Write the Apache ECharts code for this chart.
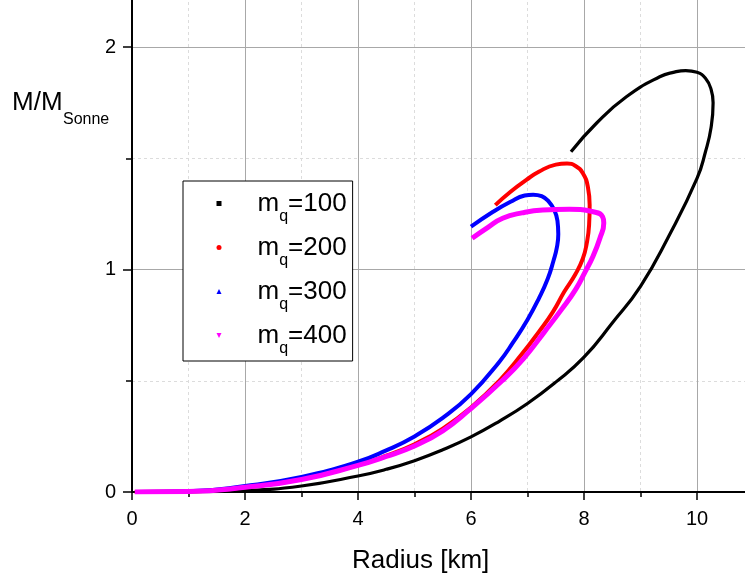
<!DOCTYPE html>
<html>
<head>
<meta charset="utf-8">
<script src="https://cdn.jsdelivr.net/npm/echarts@6/dist/echarts.min.js"></script>
<style>html,body{margin:0;padding:0;background:#fff;}#c{width:745px;height:582px;}</style>
</head>
<body>
<div id="c"></div>
<script>
// ---- data ----
const seriesNames = ['m_q=100', 'm_q=200', 'm_q=300', 'm_q=400'];
const seriesColors = ['#000000', '#ff0000', '#0000ff', '#ff00ff'];
const xTicks = [0, 2, 4, 6, 8, 10];
const yTicks = [0, 1, 2];

const mq100 = [[0.05,0],[1,0.001],[2,0.006],[3,0.027],[4,0.072],[4.5,0.102],[5,0.141],[5.5,0.19],[6,0.248],
  [6.5,0.318],[7,0.398],[7.5,0.494],[8,0.606],[8.5,0.76],[9,0.925],[9.5,1.15],[10,1.41],[10.15,1.53],
  [10.25,1.64],[10.285,1.75],[10.25,1.81],[10.15,1.86],[10.0,1.887],[9.8,1.895],[9.6,1.888],[9.34,1.867],
  [8.75,1.777],[8.22,1.658],[7.77,1.53]];
const mq200 = [[0.05,0],[1,0.002],[2,0.021],[3,0.057],[4,0.121],[4.5,0.163],[5,0.215],[5.5,0.285],[6,0.38],
  [6.5,0.5],[6.9,0.62],[7.2,0.72],[7.45,0.81],[7.65,0.9],[7.85,0.98],[7.98,1.05],[8.05,1.12],[8.09,1.2],
  [8.1,1.29],[8.07,1.37],[7.98,1.433],[7.85,1.466],[7.7,1.477],[7.5,1.472],[7.2,1.44],[6.98,1.403],
  [6.7,1.35],[6.43,1.29]];
const mq300 = [[0.1,0],[1,0.003],[2,0.027],[3,0.068],[4,0.136],[4.5,0.187],[5,0.25],[5.5,0.333],[6,0.44],
  [6.5,0.585],[6.75,0.675],[7.0,0.775],[7.2,0.87],[7.36,0.96],[7.46,1.04],[7.52,1.10],[7.545,1.16],
  [7.53,1.22],[7.47,1.27],[7.38,1.305],[7.25,1.33],[7.1,1.337],[6.95,1.333],[6.7,1.305],[6.39,1.26],[6.0,1.193]];
const mq400 = [[0.05,0],[1,0.002],[2,0.021],[3,0.056],[4,0.12],[4.5,0.16],[5,0.207],[5.5,0.275],[5.97,0.369],
  [6.55,0.5],[6.93,0.6],[7.3,0.72],[7.6,0.82],[7.85,0.91],[8.02,0.99],[8.16,1.06],[8.28,1.14],[8.35,1.21],
  [8.33,1.237],[8.2,1.258],[7.74,1.271],[7.27,1.268],[6.9,1.255],[6.56,1.231],[6.3,1.19],[6.02,1.141]];
const seriesData = [mq100, mq200, mq300, mq400];
const lineWidths = [3.2, 4, 4, 5];
const legendIcons = ['rect', 'circle', 'triangle', 'path://M0,0L10,0L5,10Z'];

const FONT = 'Liberation Sans, Arial, sans-serif';
const chart = echarts.init(document.getElementById('c'), null, {renderer: 'canvas'});

const option = {
  animation: false,
  backgroundColor: '#ffffff',
  grid: {left: 132, right: -65, top: -64, bottom: 90, containLabel: false, outerBoundsMode: 'none'},
  xAxis: {
    type: 'value', min: 0, max: 12, interval: 2,
    axisLine: {show: true, onZero: false, lineStyle: {color: '#000', width: 2}},
    axisTick: {show: true, inside: false, length: 8, lineStyle: {color: '#000', width: 1.5}},
    minorTick: {show: true, splitNumber: 2, length: 5, lineStyle: {color: '#000', width: 1.5}},
    axisLabel: {margin: 17, fontSize: 20, color: '#000', fontFamily: FONT,
      formatter: v => (xTicks.indexOf(v) >= 0 ? String(v) : '')},
    splitLine: {show: true, lineStyle: {color: '#a8a8a8', width: 1}},
    minorSplitLine: {show: true, lineStyle: {color: '#dcdcdc', width: 1, type: [3, 3]}}
  },
  yAxis: {
    type: 'value', min: 0, max: 2.5, interval: 1,
    axisLine: {show: true, onZero: false, lineStyle: {color: '#000', width: 2}},
    axisTick: {show: true, inside: false, length: 9, lineStyle: {color: '#000', width: 1.5}},
    minorTick: {show: true, splitNumber: 2, length: 6, lineStyle: {color: '#000', width: 1.5}},
    axisLabel: {margin: 16, fontSize: 20, color: '#000', fontFamily: FONT,
      formatter: v => (yTicks.indexOf(v) >= 0 ? String(v) : '')},
    splitLine: {show: true, lineStyle: {color: '#a8a8a8', width: 1}},
    minorSplitLine: {show: true, lineStyle: {color: '#dcdcdc', width: 1, type: [3, 3]}}
  },
  legend: {
    orient: 'vertical', left: 183, top: 181,
    padding: [1, 6, 4, 33.5], itemGap: 1,
    itemWidth: 5, itemHeight: 5,
    borderColor: '#000', borderWidth: 1, backgroundColor: '#fff',
    data: seriesNames.map((n, i) => ({name: n, icon: legendIcons[i], itemStyle: {color: seriesColors[i]}})),
    formatter: n => '{s| }{m|m}{q|q}{n|=' + n.split('=')[1] + '}',
    textStyle: {
      color: '#000', fontFamily: FONT, lineHeight: 43,
      rich: {
        s: {width: 31, fontSize: 16, lineHeight: 43, verticalAlign: 'middle'},
        m: {fontSize: 26, lineHeight: 26, verticalAlign: 'middle', color: '#000', fontFamily: FONT},
        n: {fontSize: 26, lineHeight: 26, verticalAlign: 'middle', color: '#000', fontFamily: FONT},
        q: {fontSize: 16, lineHeight: 19, verticalAlign: 'bottom', color: '#000', fontFamily: FONT}
      }
    }
  },
  graphic: [
    {type: 'text', left: 12, top: 90, style: {text: 'M/M', fontSize: 26, fontFamily: FONT, fill: '#000'}},
    {type: 'text', left: 63, top: 112, style: {text: 'Sonne', fontSize: 16, fontFamily: FONT, fill: '#000'}},
    {type: 'text', left: 352, top: 548, style: {text: 'Radius [km]', fontSize: 26, fontFamily: FONT, fill: '#000'}}
  ],
  series: seriesNames.map((n, i) => ({
    name: n, type: 'line', data: seriesData[i], smooth: 0.5,
    showSymbol: false, symbol: 'none', clip: true,
    lineStyle: {color: seriesColors[i], width: lineWidths[i]},
    itemStyle: {color: seriesColors[i]}
  }))
};
chart.setOption(option);
</script>
</body>
</html>
